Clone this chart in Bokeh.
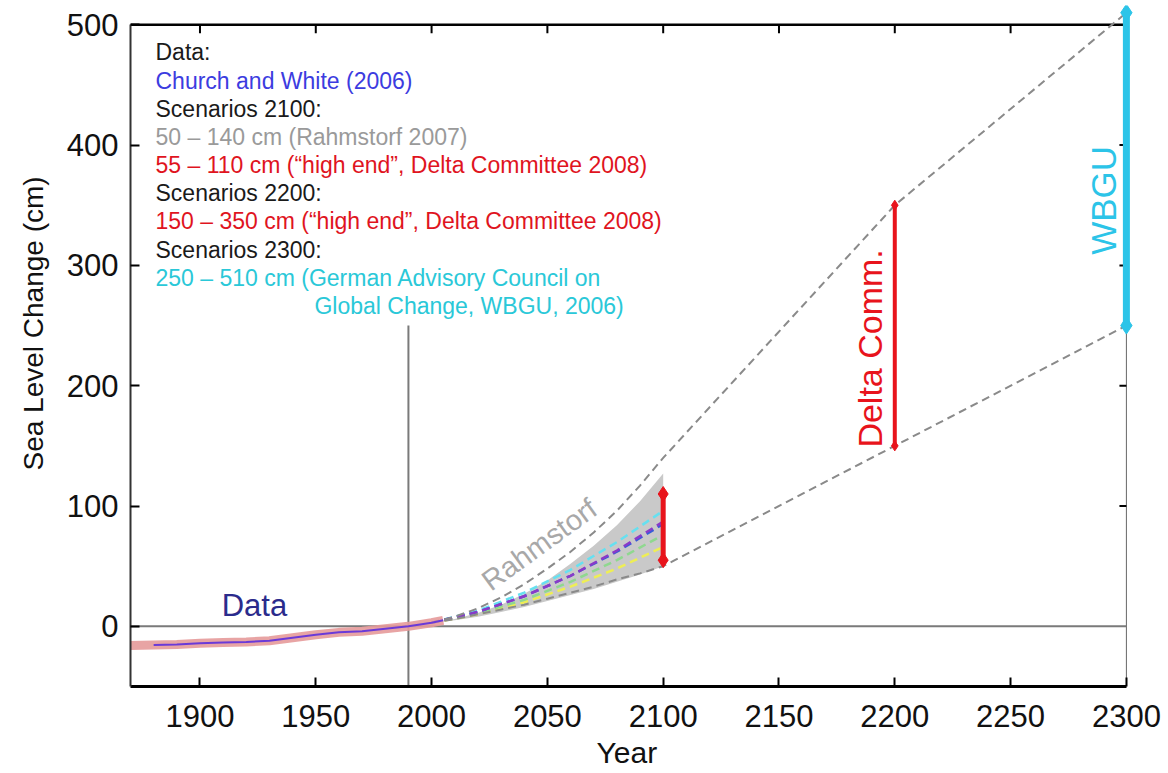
from bokeh.plotting import figure
from bokeh.models import Range1d, FixedTicker, Label, Title
from bokeh.embed import file_html
from bokeh.resources import INLINE

FONT = "Liberation Sans"

# Observed sea level, Church and White (2006), cm relative to 1990
obs_years = [1870, 1880, 1890, 1900, 1910, 1920, 1930, 1940, 1950, 1960, 1970, 1980, 1990, 2000, 2005]
obs_level = [-16, -15.5, -15, -14, -13.5, -13, -12, -9.5, -7, -5, -4, -2, 0, 3, 5]

# Rahmstorf (2007) projection envelope to 2100
proj_years = [2000, 2010, 2020, 2030, 2040, 2050, 2060, 2070, 2080, 2090, 2100]
rahm_upper = [3, 8, 15, 24, 35, 48, 62, 78, 96, 117, 140]
rahm_lower = [3, 6, 10, 14, 18, 23, 28, 33, 39, 44, 50]
band_upper = [3, 6, 11, 18, 27, 38, 52, 67, 84, 104, 127]
band_lower = [3, 5, 8, 12, 16, 21, 26, 31, 37, 43, 50]

# individual emission scenarios
scen_years = [2000, 2020, 2040, 2060, 2080, 2100]
scen_cyan = [3, 13, 28, 47, 70, 96]
scen_purple = [3, 12, 25, 42, 63, 87]
scen_blue = [3, 12, 25, 42, 62, 85]
scen_green = [3, 11, 22, 37, 55, 76]
scen_yellow = [3, 10, 20, 33, 48, 66]

# extension of the envelope to 2200 and 2300
ext_years = [2200, 2300]
ext_upper = [350, 510]
ext_lower = [150, 250]

# high-end ranges
delta_2100 = [55, 110]
delta_2200 = [150, 350]
wbgu_2300 = [250, 510]

x_ticks = [1900, 1950, 2000, 2050, 2100, 2150, 2200, 2250, 2300]
y_ticks = [0, 100, 200, 300, 400, 500]

legend_lines = [
    ("Data:", "#1a1a1a"),
    ("Church and White (2006)", "#3c3ce0"),
    ("Scenarios 2100:", "#1a1a1a"),
    ("50 \u2013 140 cm (Rahmstorf 2007)", "#9a9a9a"),
    ("55 \u2013 110 cm (\u201chigh end\u201d, Delta Committee 2008)", "#e0141e"),
    ("Scenarios 2200:", "#1a1a1a"),
    ("150 \u2013 350 cm (\u201chigh end\u201d, Delta Committee 2008)", "#e0141e"),
    ("Scenarios 2300:", "#1a1a1a"),
    ("250 \u2013 510 cm (German Advisory Council on", "#2ac8d8"),
    ("Global Change, WBGU, 2006)", "#2ac8d8"),
]

X0, X1 = 1870, 2300
Y0, Y1 = -50, 500

p = figure(width=1168, height=773, x_range=Range1d(X0, 2313), y_range=Range1d(Y0, 516),
           output_backend="svg", toolbar_location=None,
           min_border_left=130, min_border_right=12, min_border_top=5, min_border_bottom=87)
p.outline_line_color = None
p.grid.visible = False
p.background_fill_color = "white"
p.border_fill_color = "white"

# axes
xa = p.xaxis[0]
xa.ticker = FixedTicker(ticks=x_ticks)
xa.bounds = (X0, X1)
xa.axis_line_width = 3
xa.axis_line_color = "black"
xa.major_tick_in = 9
xa.major_tick_out = 0
xa.major_tick_line_width = 2
xa.minor_tick_line_color = None
xa.major_label_text_font = FONT
xa.major_label_text_font_size = "31px"
xa.major_label_text_color = "#111111"
xa.major_label_standoff = 18

ya = p.yaxis[0]
ya.ticker = FixedTicker(ticks=y_ticks)
ya.bounds = (Y0, Y1)
ya.axis_line_width = 2
ya.axis_line_color = "#333333"
ya.major_tick_in = 9
ya.major_tick_out = 0
ya.major_tick_line_width = 2
ya.minor_tick_line_color = None
ya.major_label_text_font = FONT
ya.major_label_text_font_size = "31px"
ya.major_label_text_color = "#111111"
ya.major_label_standoff = 12

# axis titles
p.add_layout(Title(text="Sea Level Change (cm)", align="left", offset=216, standoff=26,
                   vertical_align="top",
                   text_font=FONT, text_font_size="28px", text_font_style="normal",
                   text_color="#111111"), "left")
p.add_layout(Title(text="Year", align="left", offset=466, standoff=8,
                   text_font=FONT, text_font_size="30px", text_font_style="normal",
                   text_color="#111111"), "below")

# top and right frame lines with inward ticks
p.segment(x0=[X0], y0=[Y1], x1=[X1], y1=[Y1], line_color="black", line_width=2.5)
top_ticks = x_ticks[:-1]
p.segment(x0=top_ticks, y0=[Y1] * len(top_ticks), x1=top_ticks, y1=[Y1 - 7] * len(top_ticks),
          line_color="black", line_width=2)
p.segment(x0=[X1], y0=[Y0], x1=[X1], y1=[Y1], line_color="#666666", line_width=1)
right_ticks = y_ticks[1:-1]
p.segment(x0=[X1] * len(right_ticks), y0=right_ticks, x1=[X1 - 3] * len(right_ticks), y1=right_ticks,
          line_color="black", line_width=2)

# reference lines: zero level and 1990
p.segment(x0=[X0], y0=[0], x1=[X1], y1=[0], line_color="#7a7a7a", line_width=2)
p.segment(x0=[1990], y0=[Y0], x1=[1990], y1=[250], line_color="#7a7a7a", line_width=2)

# Rahmstorf envelope
p.varea(x=proj_years, y1=band_lower, y2=band_upper, fill_color="#c9c9c9")

for ys, col in [(scen_yellow, "#eeee55"), (scen_green, "#8fd88f"), (scen_cyan, "#66e0f0"),
                (scen_blue, "#3a5ad8"), (scen_purple, "#8a3ac8")]:
    p.line(scen_years, ys, line_color=col, line_width=2.5, line_dash="8 5")

p.line(proj_years + ext_years, rahm_upper + ext_upper, line_color="#8a8a8a", line_width=2, line_dash="8 5")
p.line(proj_years + ext_years, rahm_lower + ext_lower, line_color="#8a8a8a", line_width=2, line_dash="8 5")

# observations
p.line(obs_years, obs_level, line_color="#e59a9a", line_width=9, line_alpha=0.9)
p.line(obs_years[1:], obs_level[1:], line_color="#6a3ad8", line_width=2)

# high-end ranges
red = "#e8141c"
p.segment(x0=[2100], y0=[delta_2100[0]], x1=[2100], y1=[delta_2100[1]], line_color=red, line_width=5)
p.scatter([2100, 2100], delta_2100, marker="diamond", size=15, color=red)
p.segment(x0=[2200], y0=[delta_2200[0]], x1=[2200], y1=[delta_2200[1]], line_color=red, line_width=4)
p.scatter([2200, 2200], delta_2200, marker="diamond", size=10, color=red)
cyan = "#2cc4e8"
p.segment(x0=[2300], y0=[wbgu_2300[0]], x1=[2300], y1=[wbgu_2300[1]], line_color=cyan, line_width=7)
p.scatter([2300, 2300], wbgu_2300, marker="diamond", size=17, color=cyan)

# annotations
p.add_layout(Label(x=1923.5, y=17, text="Data", text_font=FONT, text_font_size="31px",
                   text_color="#2b2b8c", text_align="center", text_baseline="alphabetic"))
p.add_layout(Label(x=2046.5, y=68, text="Rahmstorf", text_font=FONT, text_font_size="29px",
                   text_color="#a8a8a8", text_align="center", text_baseline="middle",
                   angle=36, angle_units="deg"))
p.add_layout(Label(x=2189.5, y=231, text="Delta Comm.", text_font=FONT, text_font_size="34px",
                   text_color=red, text_align="center", text_baseline="middle",
                   angle=90, angle_units="deg"))
p.add_layout(Label(x=2290, y=354, text="WBGU", text_font=FONT, text_font_size="35px",
                   text_color=cyan, text_align="center", text_baseline="middle",
                   angle=90, angle_units="deg"))

# source / scenario notes
line_step = 23.4
for i, (txt, col) in enumerate(legend_lines):
    x = 1949.4 if i == len(legend_lines) - 1 else 1880.8
    p.add_layout(Label(x=x, y=477 - i * line_step, text=txt, text_font=FONT, text_font_size="23px",
                       text_color=col, text_align="left", text_baseline="alphabetic"))

open("out.html", "w").write(file_html(p, INLINE))
